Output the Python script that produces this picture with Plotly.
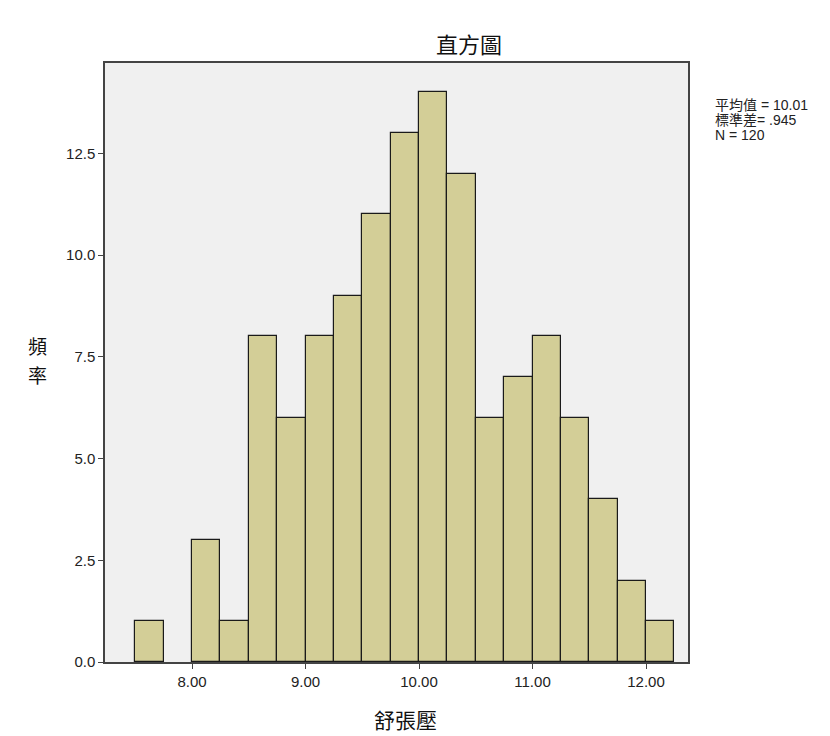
import plotly.graph_objects as go

bin_width = 0.25
bin_starts = [7.50, 7.75, 8.00, 8.25, 8.50, 8.75, 9.00, 9.25, 9.50, 9.75,
              10.00, 10.25, 10.50, 10.75, 11.00, 11.25, 11.50, 11.75, 12.00]
counts = [1, 0, 3, 1, 8, 6, 8, 9, 11, 13, 14, 12, 6, 7, 8, 6, 4, 2, 1]
x_ticks = [8, 9, 10, 11, 12]
x_tick_labels = ["8.00", "9.00", "10.00", "11.00", "12.00"]
y_ticks = [0, 2.5, 5, 7.5, 10, 12.5]
y_tick_labels = ["0.0", "2.5", "5.0", "7.5", "10.0", "12.5"]
stats_lines = ["平均值 = 10.01", "標準差= .945", "N = 120"]
title_text = "直方圖"
x_title = "舒張壓"
y_title_chars = ["頻", "率"]

centers = [s + bin_width / 2 for s in bin_starts]
line_widths = [1.2 if c > 0 else 0 for c in counts]

FONT = "Liberation Sans, Arial, Noto Sans CJK TC, sans-serif"
CJK = "Noto Sans CJK TC, sans-serif"

# plot area in screen pixels (page has an 8px body offset)
PL, PR, PT, PB = 105, 688, 63, 662
OFF = 8
W, H = 830 - OFF, 736 - OFF


def px(sx):
    return (sx - PL) / (PR - PL)


def py(sy):
    return (PB - sy) / (PB - PT)


fig = go.Figure(go.Bar(
    x=centers, y=counts, width=bin_width,
    marker=dict(color="#d3ce97", line=dict(color="#1a1a1a", width=line_widths)),
    hoverinfo="x+y",
))

fig.update_layout(
    width=W, height=H,
    margin=dict(l=PL - OFF, r=W - (PR - OFF), t=PT - OFF, b=H - (PB - OFF)),
    paper_bgcolor="white", plot_bgcolor="#f0f0f0",
    showlegend=False, bargap=0,
    font=dict(family=FONT, size=12, color="#222"),
)
fig.update_xaxes(
    range=[7.233, 12.37], tickvals=x_ticks, ticktext=x_tick_labels,
    showgrid=False, zeroline=False,
    showline=True, linecolor="#444", linewidth=1.5, mirror=True,
    ticks="outside", ticklen=5, tickcolor="#444",
    tickfont=dict(size=15, family=FONT, color="#222"),
)
fig.update_yaxes(
    range=[0, 14.72], tickvals=y_ticks, ticktext=y_tick_labels,
    showgrid=False, zeroline=False,
    showline=True, linecolor="#444", linewidth=1.5, mirror=True,
    ticks="outside", ticklen=5, tickcolor="#444",
    tickfont=dict(size=15, family=FONT, color="#222"),
)

big = dict(family=CJK, size=22, color="#111")
fig.add_annotation(text=title_text, xref="paper", yref="paper",
                   x=px(469), y=py(43), showarrow=False, font=big,
                   xanchor="center", yanchor="middle")
fig.add_annotation(text=x_title, xref="paper", yref="paper",
                   x=px(405), y=py(719), showarrow=False,
                   font=dict(family=CJK, size=21, color="#111"),
                   xanchor="center", yanchor="middle")
for ch, sy in zip(y_title_chars, [345.5, 374.5]):
    fig.add_annotation(text=ch, xref="paper", yref="paper",
                       x=px(37), y=py(sy), showarrow=False, borderpad=0,
                       font=dict(family=CJK, size=19, color="#111"),
                       xanchor="center", yanchor="middle")
for line, sy in zip(stats_lines, [105, 120, 135]):
    fig.add_annotation(text=line, xref="paper", yref="paper",
                       x=px(713), y=py(sy), showarrow=False, align="left",
                       font=dict(family=FONT, size=14, color="#222"),
                       xanchor="left", yanchor="middle")

fig.write_html("out.html")
